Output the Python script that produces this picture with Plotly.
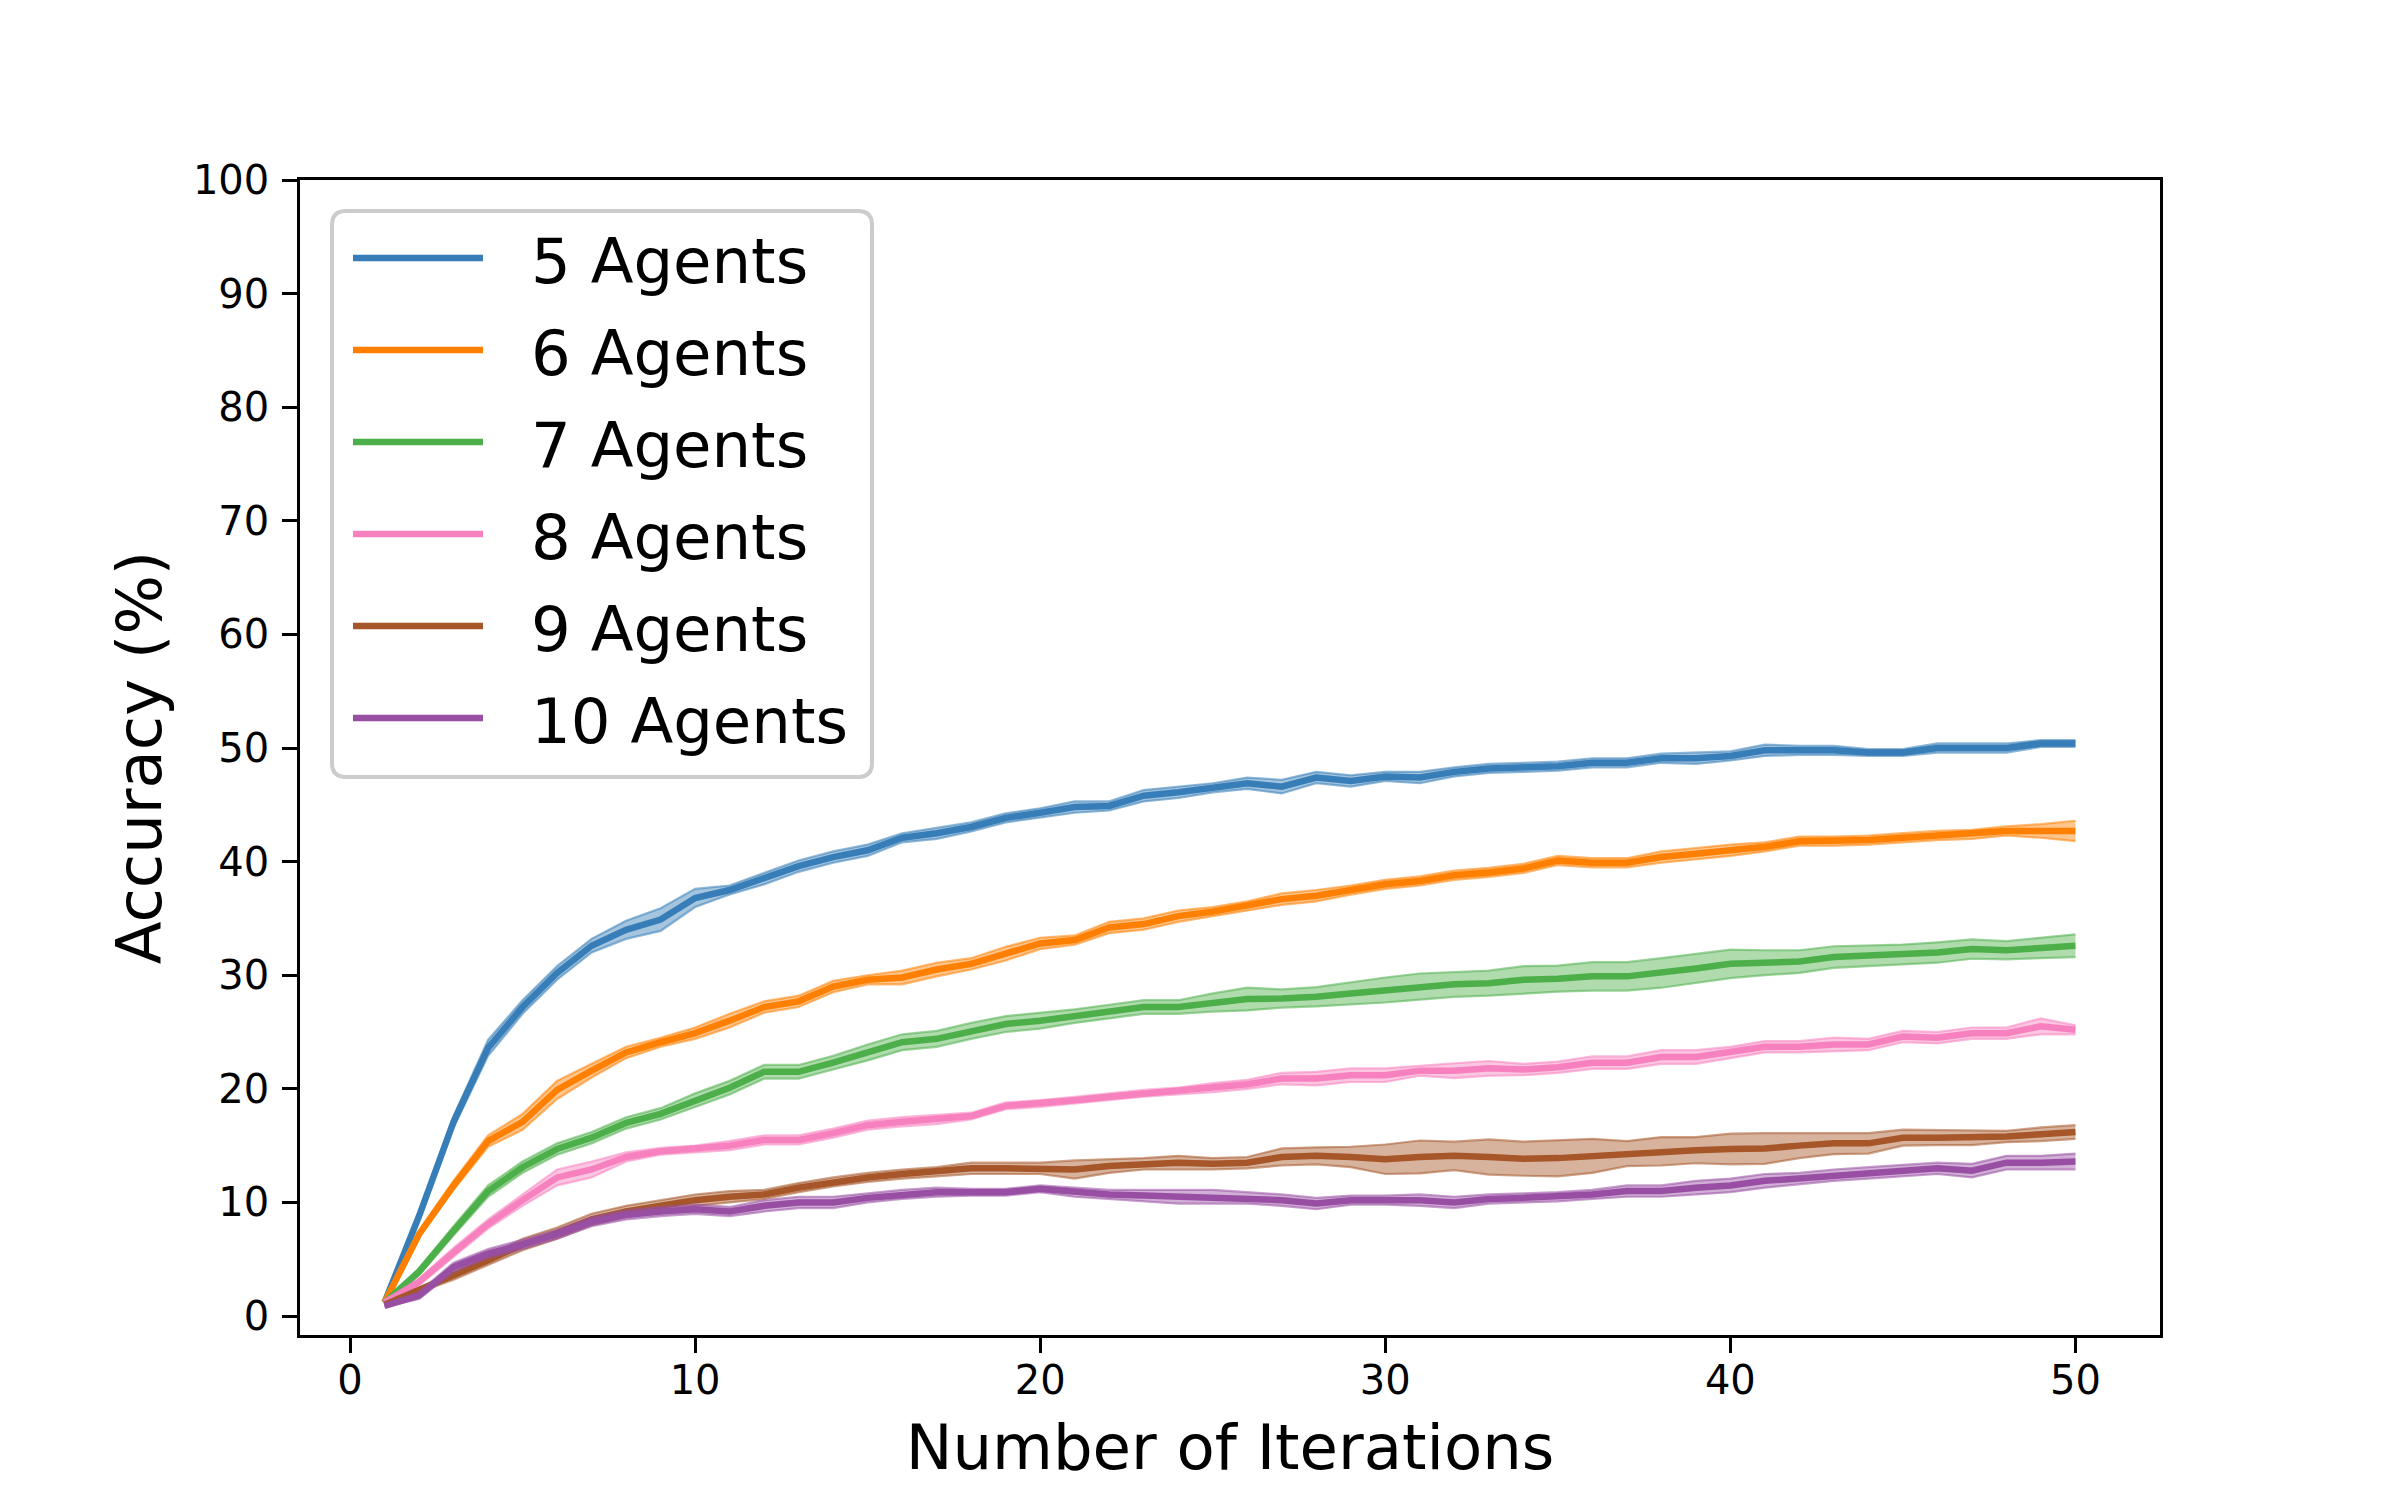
import plotly.graph_objects as go

iterations = list(range(1, 51))

labels = ["5 Agents", "6 Agents", "7 Agents", "8 Agents", "9 Agents", "10 Agents"]
colors = ["#377eb8", "#ff7f00", "#4daf4a", "#f781bf", "#a65628", "#984ea3"]

acc_5 = [1.2, 8.8, 17.1, 23.6, 27.2, 30.2, 32.6, 34.0, 34.9, 36.8, 37.5, 38.5, 39.6, 40.4, 41.0, 42.1, 42.5, 43.05, 43.85, 44.3,
         44.8, 44.9, 45.8, 46.1, 46.5, 46.9, 46.6, 47.4, 47.1, 47.5, 47.4, 47.9, 48.2, 48.3, 48.4, 48.7, 48.7, 49.1, 49.1, 49.3,
         49.8, 49.8, 49.8, 49.6, 49.6, 50.0, 50.0, 50.0, 50.4, 50.4]
acc_6 = [1.2, 7.2, 11.5, 15.4, 17.1, 19.9, 21.6, 23.2, 24.1, 24.9, 26.0, 27.2, 27.7, 29.0, 29.6, 29.8, 30.5, 31.0, 31.9, 32.8,
         33.1, 34.2, 34.5, 35.2, 35.6, 36.1, 36.7, 37.0, 37.5, 38.0, 38.3, 38.8, 39.05, 39.4, 40.1, 39.9, 39.9, 40.4, 40.7, 41.0,
         41.3, 41.8, 41.8, 41.9, 42.1, 42.3, 42.4, 42.7, 42.7, 42.7]
acc_7 = [1.2, 3.9, 7.5, 11.0, 13.1, 14.7, 15.7, 17.0, 17.8, 19.0, 20.1, 21.5, 21.5, 22.3, 23.2, 24.1, 24.4, 25.1, 25.7, 26.0,
         26.4, 26.8, 27.2, 27.2, 27.6, 27.9, 27.95, 28.1, 28.4, 28.7, 29.0, 29.2, 29.3, 29.6, 29.7, 29.9, 29.9, 30.2, 30.6, 31.0,
         31.1, 31.2, 31.6, 31.7, 31.8, 32.0, 32.3, 32.2, 32.4, 32.6]
acc_8 = [1.2, 3.0, 5.6, 8.1, 10.2, 12.2, 12.9, 14.0, 14.5, 14.7, 15.0, 15.5, 15.5, 16.1, 16.8, 17.1, 17.3, 17.6, 18.5, 18.7,
         19.0, 19.3, 19.6, 19.8, 20.1, 20.4, 20.9, 20.9, 21.2, 21.2, 21.6, 21.6, 21.8, 21.7, 21.9, 22.3, 22.3, 22.8, 22.8, 23.2,
         23.7, 23.7, 23.9, 23.9, 24.6, 24.5, 24.9, 24.9, 25.5, 25.2]
acc_9 = [1.0, 2.3, 3.5, 4.9, 6.3, 7.3, 8.5, 9.2, 9.7, 10.2, 10.5, 10.7, 11.3, 11.8, 12.2, 12.5, 12.7, 13.0, 13.0, 13.0,
         12.9, 13.2, 13.4, 13.5, 13.4, 13.5, 14.0, 14.1, 14.0, 13.8, 14.0, 14.1, 14.0, 13.85, 13.9, 14.1, 14.3, 14.5, 14.6, 14.7,
         14.75, 15.0, 15.2, 15.2, 15.7, 15.7, 15.7, 15.8, 16.0, 16.2]
acc_10 = [0.9, 1.8, 4.3, 5.5, 6.3, 7.2, 8.3, 8.9, 9.2, 9.4, 9.2, 9.7, 10.0, 10.0, 10.4, 10.7, 10.9, 10.9, 10.9, 11.2,
          10.9, 10.7, 10.6, 10.5, 10.5, 10.4, 10.2, 9.9, 10.2, 10.2, 10.2, 10.0, 10.3, 10.4, 10.5, 10.7, 11.0, 11.0, 11.3, 11.5,
          11.9, 12.1, 12.4, 12.6, 12.8, 13.0, 12.8, 13.5, 13.5, 13.6]

spread_5 = [0.1, 0.3, 0.5, 0.7, 0.6, 0.6, 0.6, 0.8, 1.0, 0.8, 0.4, 0.5, 0.5, 0.5, 0.5, 0.4, 0.5, 0.4, 0.4, 0.4,
            0.5, 0.4, 0.5, 0.5, 0.4, 0.5, 0.6, 0.5, 0.5, 0.4, 0.5, 0.4, 0.4, 0.4, 0.4, 0.4, 0.4, 0.4, 0.5, 0.4,
            0.5, 0.4, 0.4, 0.3, 0.3, 0.4, 0.4, 0.4, 0.3, 0.3]
spread_6 = [0.1, 0.3, 0.4, 0.5, 0.7, 0.8, 0.6, 0.5, 0.4, 0.5, 0.6, 0.5, 0.5, 0.5, 0.4, 0.6, 0.6, 0.5, 0.6, 0.5,
            0.4, 0.5, 0.5, 0.5, 0.4, 0.4, 0.5, 0.5, 0.4, 0.4, 0.4, 0.4, 0.4, 0.4, 0.4, 0.4, 0.4, 0.5, 0.5, 0.5,
            0.4, 0.4, 0.4, 0.4, 0.4, 0.4, 0.4, 0.4, 0.6, 0.9]
spread_7 = [0.1, 0.3, 0.4, 0.5, 0.5, 0.5, 0.5, 0.5, 0.5, 0.6, 0.6, 0.6, 0.6, 0.6, 0.7, 0.7, 0.7, 0.7, 0.7, 0.7,
            0.6, 0.6, 0.6, 0.6, 0.8, 1.0, 0.8, 0.85, 1.0, 1.1, 1.15, 1.1, 1.1, 1.2, 1.15, 1.25, 1.25, 1.3, 1.25, 1.25,
            1.1, 1.0, 0.95, 0.9, 0.9, 0.9, 0.85, 0.8, 0.9, 1.0]
spread_8 = [0.1, 0.3, 0.4, 0.4, 0.5, 0.7, 0.7, 0.4, 0.3, 0.3, 0.4, 0.4, 0.4, 0.4, 0.4, 0.4, 0.4, 0.3, 0.3, 0.3,
            0.3, 0.3, 0.3, 0.3, 0.4, 0.4, 0.5, 0.6, 0.6, 0.6, 0.45, 0.65, 0.65, 0.5, 0.5, 0.55, 0.55, 0.6, 0.6, 0.5,
            0.5, 0.5, 0.6, 0.5, 0.5, 0.5, 0.5, 0.5, 0.7, 0.4]
spread_9 = [0.1, 0.2, 0.3, 0.4, 0.5, 0.5, 0.5, 0.5, 0.5, 0.5, 0.5, 0.4, 0.4, 0.4, 0.4, 0.4, 0.4, 0.5, 0.5, 0.5,
            0.8, 0.6, 0.5, 0.6, 0.5, 0.5, 0.75, 0.75, 0.9, 1.3, 1.45, 1.25, 1.55, 1.5, 1.6, 1.5, 1.1, 1.25, 1.15, 1.35,
            1.35, 1.1, 0.95, 0.9, 0.7, 0.65, 0.65, 0.5, 0.6, 0.6]
spread_10 = [0.1, 0.3, 0.4, 0.4, 0.4, 0.4, 0.4, 0.4, 0.4, 0.4, 0.4, 0.5, 0.5, 0.5, 0.4, 0.4, 0.4, 0.3, 0.3, 0.3,
             0.4, 0.4, 0.5, 0.6, 0.6, 0.5, 0.5, 0.5, 0.4, 0.4, 0.5, 0.5, 0.4, 0.4, 0.4, 0.4, 0.5, 0.5, 0.6, 0.6,
             0.6, 0.5, 0.5, 0.5, 0.5, 0.5, 0.6, 0.6, 0.6, 0.7]

means = [acc_5, acc_6, acc_7, acc_8, acc_9, acc_10]
spreads = [spread_5, spread_6, spread_7, spread_8, spread_9, spread_10]

x_ticks = [0, 10, 20, 30, 40, 50]
y_ticks = [0, 10, 20, 30, 40, 50, 60, 70, 80, 90, 100]

W, H = 2400, 1500
L, R, T, B = 300, 2160, 180, 1335
FONT = "DejaVu Sans"
BIG = 62.5


def rgba(hex_color, a):
    h = hex_color.lstrip("#")
    r, g, b = int(h[0:2], 16), int(h[2:4], 16), int(h[4:6], 16)
    return f"rgba({r},{g},{b},{a})"


def px(xp):
    return (xp - L) / (R - L)


def py(yp):
    return (B - yp) / (B - T)


fig = go.Figure()
for lab, col, m, s in zip(labels, colors, means, spreads):
    lo = [a - d for a, d in zip(m, s)]
    hi = [a + d for a, d in zip(m, s)]
    fig.add_trace(go.Scatter(x=iterations, y=lo, mode="lines",
                             line=dict(color=rgba(col, 0.55), width=2.2),
                             showlegend=False, hoverinfo="skip"))
    fig.add_trace(go.Scatter(x=iterations, y=hi, mode="lines", fill="tonexty",
                             fillcolor=rgba(col, 0.45),
                             line=dict(color=rgba(col, 0.55), width=2.2),
                             showlegend=False, hoverinfo="skip"))
    fig.add_trace(go.Scatter(x=iterations, y=m, mode="lines", name=lab,
                             line=dict(color=col, width=6.5), showlegend=False))

axis_common = dict(
    showgrid=False, zeroline=False, showline=True, linecolor="black", linewidth=3.3,
    mirror=True, ticks="outside", ticklen=14.6, tickwidth=3.3, tickcolor="black",
    tickfont=dict(family=FONT, size=40, color="black"),
)
fig.update_xaxes(range=[-1.45, 52.45], tickvals=x_ticks, ticklabelstandoff=-7,
                 title=dict(text="Number of Iterations", font=dict(family=FONT, size=BIG, color="black"), standoff=24),
                 **axis_common)
fig.update_yaxes(range=[-1.67, 100], tickvals=y_ticks, ticklabelstandoff=5,
                 title=dict(text="Accuracy (%)", font=dict(family=FONT, size=BIG, color="black"), standoff=12),
                 **axis_common)

# legend frame (rounded) drawn above the data
x0, y0, x1, y1, rad = 332, 211, 872, 777, 14
path = (f"M{px(x0 + rad)},{py(y0)} L{px(x1 - rad)},{py(y0)} Q{px(x1)},{py(y0)} {px(x1)},{py(y0 + rad)} "
        f"L{px(x1)},{py(y1 - rad)} Q{px(x1)},{py(y1)} {px(x1 - rad)},{py(y1)} "
        f"L{px(x0 + rad)},{py(y1)} Q{px(x0)},{py(y1)} {px(x0)},{py(y1 - rad)} "
        f"L{px(x0)},{py(y0 + rad)} Q{px(x0)},{py(y0)} {px(x0 + rad)},{py(y0)} Z")
shapes = [dict(type="path", xref="paper", yref="paper", path=path,
               fillcolor="rgba(255,255,255,0.8)", line=dict(color="#cccccc", width=4), layer="above")]
annotations = []
for k, (lab, col) in enumerate(zip(labels, colors)):
    yrow = 258 + 92 * k
    shapes.append(dict(type="line", xref="paper", yref="paper", x0=px(353), x1=px(483),
                       y0=py(yrow), y1=py(yrow), line=dict(color=col, width=6.5), layer="above"))
    annotations.append(dict(xref="paper", yref="paper", x=px(529), y=py(yrow + 3), text=lab,
                            showarrow=False, xanchor="left", yanchor="middle",
                            font=dict(family=FONT, size=BIG, color="black")))

fig.update_layout(
    width=W, height=H,
    margin=dict(l=L, r=W - R, t=T, b=H - B, pad=0),
    paper_bgcolor="white", plot_bgcolor="white",
    showlegend=False, shapes=shapes, annotations=annotations,
    font=dict(family=FONT),
)

fig.write_html("out.html", config={"displayModeBar": False},
               post_script="document.body.style.margin='0px'; document.body.style.padding='0px';")
